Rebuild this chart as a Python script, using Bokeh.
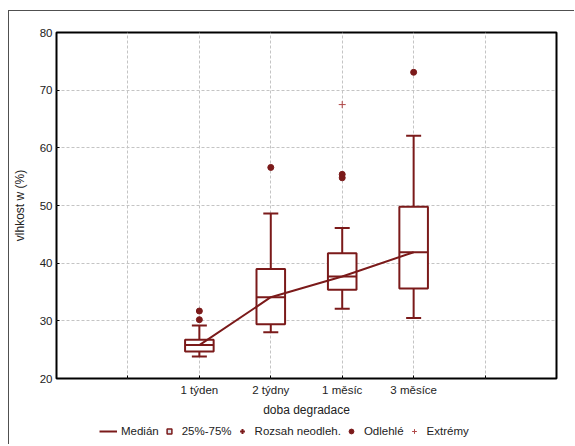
import numpy as np
from bokeh.plotting import figure
from bokeh.layouts import column
from bokeh.models import (FactorRange, Range1d, FixedTicker, ColumnDataSource, Whisker,
                          TeeHead, Legend, LegendItem)
from bokeh.embed import file_html
from bokeh.resources import INLINE

# ---- data ----
categories = ["1 týden", "2 týdny", "1 měsíc", "3 měsíce"]
pad_factors = [" ", "  "]
q1 = [24.7, 29.4, 35.4, 35.6]
median = [25.8, 34.1, 37.7, 41.9]
q3 = [26.7, 39.0, 41.7, 49.8]
whisker_low = [23.8, 28.0, 32.1, 30.5]
whisker_high = [29.2, 48.6, 46.1, 62.1]
outlier_cat = ["1 týden", "1 týden", "2 týdny", "1 měsíc", "1 měsíc", "3 měsíce"]
outlier_val = [31.7, 30.2, 56.6, 55.4, 54.8, 73.1]
extreme_cat = ["1 měsíc"]
extreme_val = [67.5]
y_ticks = [20, 30, 40, 50, 60, 70, 80]
legend_labels = ["Medián", "25%-75%", "Rozsah neodleh.", "Odlehlé", "Extrémy"]

C = "#7b1a1a"
CX = "#b04848"
FONT = "Liberation Sans"

factors = [pad_factors[0]] + categories + [pad_factors[1]]
xr = FactorRange(factors=factors, range_padding=0.5, range_padding_units="absolute")
p = figure(x_range=xr, y_range=Range1d(20, 80), width=565, height=409,
           output_backend="svg", toolbar_location=None,
           min_border_left=45, min_border_top=21, min_border_right=18, min_border_bottom=42)

p.outline_line_color = "black"
p.outline_line_width = 2

# grids
for g in (p.xgrid, p.ygrid):
    g.grid_line_color = "#c4c4c4"
    g.grid_line_dash = "3 2"
    g.grid_line_width = 1
p.yaxis.ticker = FixedTicker(ticks=y_ticks)
p.ygrid.ticker = FixedTicker(ticks=y_ticks)

for ax in (p.xaxis, p.yaxis):
    ax.axis_line_color = None
    ax.major_tick_in = 3
    ax.major_tick_out = 0
    ax.minor_tick_line_color = None
    ax.major_label_text_font = FONT
    ax.major_label_text_font_size = "11.5px"
    ax.major_label_text_color = "#222222"
    ax.axis_label_text_font = FONT
    ax.axis_label_text_font_size = "12px"
    ax.axis_label_text_font_style = "normal"
    ax.axis_label_text_color = "#222222"
p.xaxis.axis_label = "doba degradace"
p.yaxis.axis_label = "vlhkost w (%)"
p.xaxis.major_label_standoff = 5
p.xaxis.axis_label_standoff = 4
p.yaxis.major_label_standoff = 4
p.yaxis.axis_label_standoff = 10

src = ColumnDataSource(dict(cat=categories, q1=q1, med=median, q3=q3,
                            lo=whisker_low, hi=whisker_high))
out_src = ColumnDataSource(dict(cat=outlier_cat, val=outlier_val))
ext_src = ColumnDataSource(dict(cat=extreme_cat, val=extreme_val))

wk = Whisker(base="cat", upper="hi", lower="lo", source=src, line_color=C, line_width=2,
             upper_head=TeeHead(size=15, line_color=C, line_width=2),
             lower_head=TeeHead(size=15, line_color=C, line_width=2))
p.add_layout(wk)

p.vbar(x="cat", top="q3", bottom="q1", width=0.4, source=src,
       fill_color="white", line_color=C, line_width=2)
p.vbar(x="cat", top="med", bottom="med", width=0.4, source=src,
       fill_color=None, line_color=C, line_width=2)
p.line(x="cat", y="med", source=src, line_color=C, line_width=2)

p.scatter(x="cat", y="val", source=out_src, marker="circle", size=6, fill_color=C, line_color=C)
p.scatter(x="cat", y="val", source=ext_src, marker="cross", size=7, line_color=CX, line_width=1)

# ---- legend strip (same data, outside its visible y range; only the legend shows) ----
lg = figure(width=565, height=24, output_backend="svg", toolbar_location=None,
            x_range=xr, y_range=Range1d(-2, -1),
            x_axis_location=None, y_axis_location=None,
            min_border_left=0, min_border_right=0, min_border_top=0, min_border_bottom=0)
lg.outline_line_color = None
lg.grid.visible = False
r_med = lg.line(x="cat", y="med", source=src, line_color=C, line_width=2)
r_box = lg.scatter(x="cat", y="q3", source=src, marker="square", size=13,
                   fill_color="#dde6ee", line_color=C, line_width=1.5)
r_rng = lg.scatter(x="cat", y="hi", source=src, marker="cross", size=13, line_color=C, line_width=2)
r_out = lg.scatter(x="cat", y="val", source=out_src, marker="circle", size=6, fill_color=C, line_color=C)
r_ext = lg.scatter(x="cat", y="val", source=ext_src, marker="cross", size=7, line_color=CX, line_width=1)
renderers = [r_med, r_box, r_rng, r_out, r_ext]
legend = Legend(items=[LegendItem(label=l, renderers=[r]) for l, r in zip(legend_labels, renderers)],
                orientation="horizontal", location=(43, 7))
legend.label_text_font = FONT
legend.label_text_font_size = "11.5px"
legend.label_text_color = "#222222"
legend.glyph_width = 18
legend.glyph_height = 12
legend.spacing = 1
legend.label_standoff = 4
legend.padding = 2
legend.margin = 0
legend.border_line_color = None
legend.background_fill_alpha = 0
lg.add_layout(legend, "center")

layout = column(p, lg, spacing=0)
layout.styles = {"border-left": "1px solid #505050", "border-top": "1px solid #505050",
                 "margin-top": "10px", "margin-left": "8px"}

open("out.html", "w").write(file_html(layout, INLINE))
